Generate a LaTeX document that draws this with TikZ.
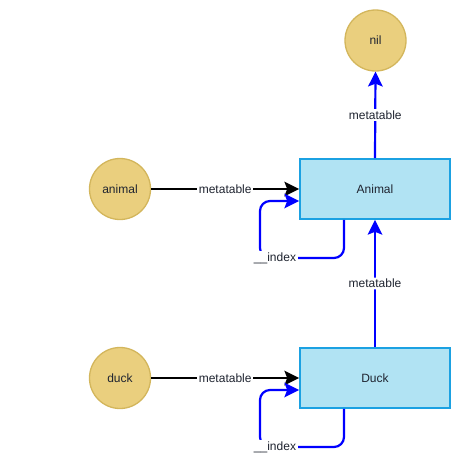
\documentclass[tikz,border=0pt]{standalone}
\usepackage{fontspec}
\setmainfont{Liberation Sans}
\usetikzlibrary{arrows.meta}
\definecolor{circfill}{HTML}{EACF7E}
\definecolor{circdraw}{HTML}{D3B65C}
\definecolor{boxfill}{HTML}{B1E3F3}
\definecolor{boxdraw}{HTML}{1BA1E2}
\definecolor{txt}{HTML}{1F2430}
\definecolor{loopblue}{HTML}{0000FF}
\begin{document}
\begin{tikzpicture}[x=1pt,y=-1pt,
  font=\fontsize{12}{14}\selectfont, text=txt,
  circ/.style={circle, draw=circdraw, fill=circfill, line width=1.3pt, minimum size=61pt, inner sep=0pt},
  objbox/.style={rectangle, draw=boxdraw, fill=boxfill, line width=1.6pt, minimum width=150pt, minimum height=60pt, inner sep=0pt},
  tip/.style={-{Stealth[length=15pt,width=15pt,inset=3pt,line width=0pt]}},
  blk/.style={tip, draw=black, line width=2pt},
  blu/.style={tip, draw=loopblue, line width=2.2pt, rounded corners=10pt},
  lbl/.style={fill=white, inner sep=1.5pt, text=txt}
]
\useasboundingbox (0,0) rectangle (470,474);
\node[circ] (nil) at (375.5,40.5) {nil};
\node[circ] (animal) at (120,189) {animal};
\node[circ] (duck) at (120,378) {duck};
\node[objbox] (A) at (375,189) {Animal};
\node[objbox] (D) at (375,378) {Duck};

\draw[blk] (animal) -- node[lbl] {metatable} (A.west);
\draw[blk] (duck) -- node[lbl] {metatable} (D.west);
\draw[blu] (A.north) -- node[lbl] {metatable} (nil.south);
\draw[blu] (D.north) -- node[lbl] {metatable} (A.south);

\coordinate (ca) at (260,258);
\coordinate (cd) at (260,447);
\draw[blu] ([xshift=-31pt]A.south) |- (ca) |- ([yshift=-12pt]A.west);
\draw[blu] ([xshift=-31pt]D.south) |- (cd) |- ([yshift=-12pt]D.west);
\node[lbl] (ia) at (275,258) {\_\_index};
\node[lbl] (id) at (275,447) {\_\_index};
\end{tikzpicture}
\end{document}
